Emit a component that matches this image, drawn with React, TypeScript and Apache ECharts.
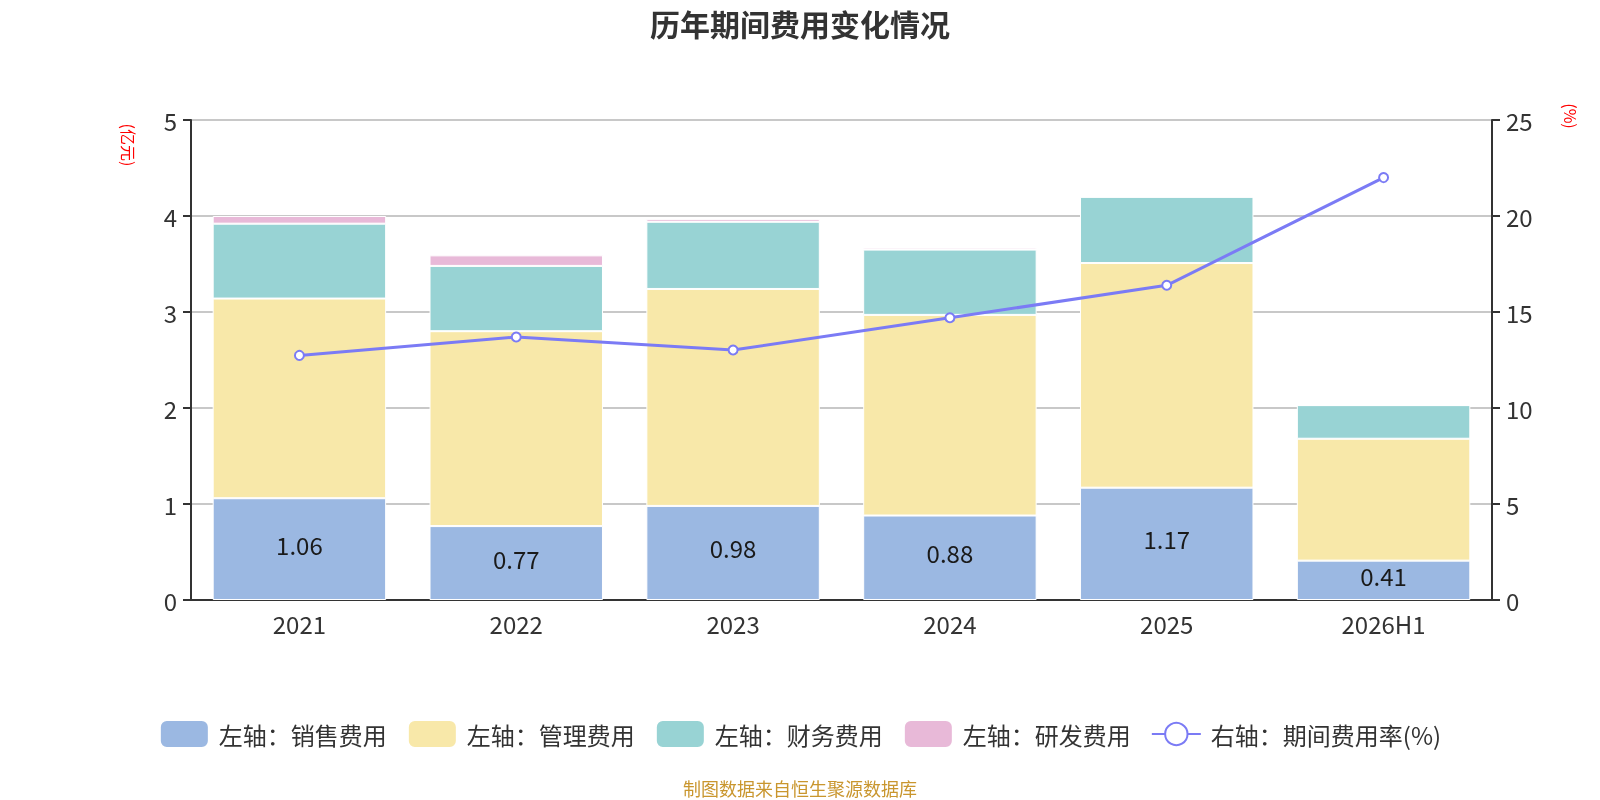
import React, { useEffect, useRef } from "react";
import * as echarts from "echarts";

const categories = ["2021", "2022", "2023", "2024", "2025", "2026H1"];
const salesExpense = [1.06, 0.77, 0.98, 0.88, 1.17, 0.41];
const adminExpense = [2.08, 2.03, 2.26, 2.09, 2.34, 1.27];
const financeExpense = [0.78, 0.68, 0.70, 0.68, 0.69, 0.35];
const rdExpense = [0.08, 0.11, 0.03, 0.02, 0, 0];
const expenseRate = [12.74, 13.7, 13.02, 14.7, 16.39, 22.0];
const leftTicks = { min: 0, max: 5, interval: 1 };
const rightTicks = { min: 0, max: 25, interval: 5 };

const FONT = "'Noto Sans CJK SC', 'Noto Sans', sans-serif";

export default function App() {
  const ref = useRef<HTMLDivElement>(null);
  useEffect(() => {
    document.body.style.margin = "0";
    const chart = echarts.init(ref.current!, null, { renderer: "svg" });
    const barBase = {
      type: "bar",
      stack: "total",
      barWidth: "80%",
      itemStyle: { borderColor: "#ffffff", borderWidth: 1 },
    };
    chart.setOption({
      animation: false,
      textStyle: { fontFamily: FONT },
      title: {
        text: "历年期间费用变化情况",
        left: "center",
        top: 3,
        textStyle: { fontSize: 30, fontWeight: "bold", color: "#333", fontFamily: FONT },
      },
      grid: { left: 191, right: 108, top: 120, bottom: 200 },
      legend: {
        bottom: 46,
        left: "center",
        itemWidth: 49,
        itemHeight: 28,
        itemGap: 20,
        textStyle: { fontSize: 24, color: "#333", fontFamily: FONT, padding: [0, 0, 0, 5] },
        data: [
          { name: "左轴：销售费用", icon: "roundRect" },
          { name: "左轴：管理费用", icon: "roundRect" },
          { name: "左轴：财务费用", icon: "roundRect" },
          { name: "左轴：研发费用", icon: "roundRect" },
          { name: "右轴：期间费用率(%)" },
        ],
      },
      xAxis: {
        type: "category",
        data: categories,
        axisLine: { lineStyle: { color: "#333", width: 2 } },
        axisTick: { lineStyle: { color: "#333", width: 2 }, length: 8 },
        axisLabel: { fontSize: 24, color: "#333", margin: 11 },
      },
      yAxis: [
        {
          type: "value",
          ...leftTicks,
          axisLine: { show: true, lineStyle: { color: "#333", width: 2 } },
          axisTick: { show: true, lineStyle: { color: "#333", width: 2 }, length: 8 },
          axisLabel: { fontSize: 24, color: "#333", margin: 14 },
          splitLine: { lineStyle: { color: "#c8c8c8", width: 2 } },
        },
        {
          type: "value",
          ...rightTicks,
          axisLine: { show: true, lineStyle: { color: "#333", width: 2 } },
          axisTick: { show: true, lineStyle: { color: "#333", width: 2 }, length: 8 },
          axisLabel: { fontSize: 24, color: "#333", margin: 14 },
          splitLine: { show: false },
        },
      ],
      graphic: [
        {
          type: "text",
          x: 129,
          y: 145,
          rotation: -Math.PI / 2,
          style: {
            text: "(亿元)",
            fill: "#ff0000",
            fontSize: 16,
            fontFamily: FONT,
            align: "center",
            verticalAlign: "middle",
          },
        },
        {
          type: "text",
          x: 1571,
          y: 116,
          rotation: -Math.PI / 2,
          style: {
            text: "(%)",
            fill: "#ff0000",
            fontSize: 16,
            fontFamily: FONT,
            align: "center",
            verticalAlign: "middle",
          },
        },
        {
          type: "text",
          x: 800,
          y: 788,
          style: {
            text: "制图数据来自恒生聚源数据库",
            fill: "#c9962e",
            fontSize: 18,
            fontFamily: FONT,
            align: "center",
            verticalAlign: "middle",
          },
        },
      ],
      series: [
        {
          ...barBase,
          name: "左轴：销售费用",
          data: salesExpense,
          itemStyle: { ...barBase.itemStyle, color: "#9bb8e2" },
          label: {
            show: true,
            position: "inside",
            offset: [0, -5],
            fontSize: 24,
            color: "#1a1a1a",
            fontFamily: FONT,
          },
        },
        {
          ...barBase,
          name: "左轴：管理费用",
          data: adminExpense,
          itemStyle: { ...barBase.itemStyle, color: "#f8e8a9" },
        },
        {
          ...barBase,
          name: "左轴：财务费用",
          data: financeExpense,
          itemStyle: { ...barBase.itemStyle, color: "#98d3d4" },
        },
        {
          ...barBase,
          name: "左轴：研发费用",
          data: rdExpense,
          itemStyle: { ...barBase.itemStyle, color: "#e8b9d8" },
        },
        {
          type: "line",
          name: "右轴：期间费用率(%)",
          yAxisIndex: 1,
          data: expenseRate,
          symbol: "emptyCircle",
          symbolSize: 9,
          lineStyle: { color: "#7b7bf5", width: 3 },
          itemStyle: { color: "#7b7bf5", borderWidth: 2 },
        },
      ],
    });
    return () => chart.dispose();
  }, []);
  return (
    <div
      ref={ref}
      style={{ position: "fixed", left: 0, top: 0, width: 1600, height: 800 }}
    />
  );
}
